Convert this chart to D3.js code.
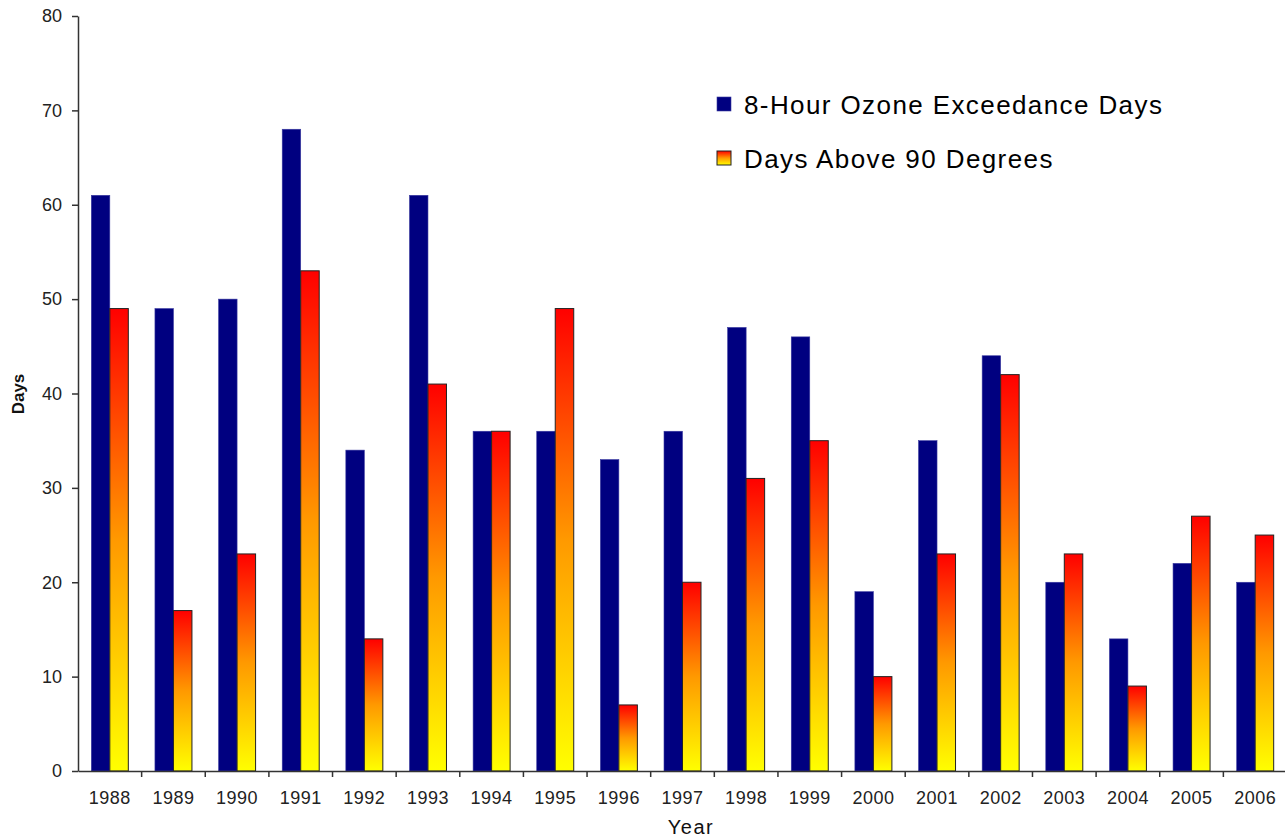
<!DOCTYPE html>
<html>
<head>
<meta charset="utf-8">
<script src="https://cdn.jsdelivr.net/npm/d3@7"></script>
<style>
  html, body { margin: 0; padding: 0; background: #fff; }
  svg { display: block; }
</style>
</head>
<body>
<svg id="chart" width="1285" height="839"></svg>
<script>
// Yearly counts
const years = ["1988","1989","1990","1991","1992","1993","1994","1995","1996","1997",
               "1998","1999","2000","2001","2002","2003","2004","2005","2006"];
const ozoneDays = [61, 49, 50, 68, 34, 61, 36, 36, 33, 36, 47, 46, 19, 35, 44, 20, 14, 22, 20];
const hotDays   = [49, 17, 23, 53, 14, 41, 36, 49, 7, 20, 31, 35, 10, 23, 42, 23, 9, 27, 25];
const yTicks = [0, 10, 20, 30, 40, 50, 60, 70, 80];
const seriesNames = ["8-Hour Ozone Exceedance Days", "Days Above 90 Degrees"];

const svg = d3.select("#chart");
const margin = { left: 78, right: -2, top: 16, bottom: 68 };
const W = 1285, H = 839;
const FONT = "Liberation Sans, Arial, sans-serif";

const x = d3.scaleBand().domain(years).range([margin.left, W - margin.right]).padding(0);
const y = d3.scaleLinear().domain([0, 80]).range([H - margin.bottom, margin.top]);
const barW = 18.5;

// Gradient for the temperature bars: yellow at the base, red at the top
const defs = svg.append("defs");
function heatGradient(id) {
  const grad = defs.append("linearGradient")
    .attr("id", id).attr("x1", 0).attr("y1", 1).attr("x2", 0).attr("y2", 0);
  grad.append("stop").attr("offset", "0%").attr("stop-color", "#ffff00");
  grad.append("stop").attr("offset", "50%").attr("stop-color", "#ff9900");
  grad.append("stop").attr("offset", "100%").attr("stop-color", "#ff0000");
}
heatGradient("heat");
heatGradient("heatLegend");

const axisColor = "#333";

// Bars
const g = svg.append("g");
g.selectAll("rect.ozone").data(years).join("rect")
  .attr("class", "ozone")
  .attr("x", (d) => x(d) + x.bandwidth() / 2 - barW)
  .attr("y", (d, i) => y(ozoneDays[i]))
  .attr("width", barW)
  .attr("height", (d, i) => y(0) - y(ozoneDays[i]))
  .attr("fill", "#000080")
  .attr("stroke", "#3a3aa0").attr("stroke-width", 0.6);

g.selectAll("rect.heat").data(years).join("rect")
  .attr("class", "heat")
  .attr("x", (d) => x(d) + x.bandwidth() / 2)
  .attr("y", (d, i) => y(hotDays[i]))
  .attr("width", barW)
  .attr("height", (d, i) => y(0) - y(hotDays[i]))
  .attr("fill", "url(#heat)")
  .attr("stroke", "#222").attr("stroke-width", 1);

// Y axis
const yAxis = svg.append("g")
  .attr("transform", `translate(${margin.left},0)`)
  .call(d3.axisLeft(y).tickValues(yTicks).tickSize(6).tickPadding(10).tickSizeOuter(0));
yAxis.select(".domain").attr("stroke", axisColor).attr("stroke-width", 1.5);
yAxis.selectAll(".tick line").attr("stroke", axisColor).attr("stroke-width", 1.5);
yAxis.selectAll(".tick text")
  .attr("font-family", FONT)
  .attr("font-size", 18).attr("fill", "#222");

// X axis: ticks sit between categories
const xAxis = svg.append("g")
  .attr("transform", `translate(0,${y(0)})`)
  .call(d3.axisBottom(x).tickSize(0).tickPadding(20).tickSizeOuter(0));
xAxis.select(".domain").attr("stroke", axisColor).attr("stroke-width", 1.5);
xAxis.selectAll(".tick text")
  .attr("font-family", FONT)
  .attr("font-size", 18).attr("letter-spacing", 0.5).attr("fill", "#222");
xAxis.selectAll("line.sep").data(years).join("line")
  .attr("class", "sep")
  .attr("x1", (d) => x(d) + x.bandwidth()).attr("x2", (d) => x(d) + x.bandwidth())
  .attr("y1", 0).attr("y2", 6)
  .attr("stroke", axisColor).attr("stroke-width", 1.5);

// Axis titles
svg.append("text")
  .attr("x", 691).attr("y", 834)
  .attr("text-anchor", "middle")
  .attr("font-family", FONT)
  .attr("font-size", 20).attr("letter-spacing", 1.5).attr("fill", "#111")
  .text("Year");
svg.append("text")
  .attr("transform", "translate(24,394) rotate(-90)")
  .attr("text-anchor", "middle")
  .attr("font-family", FONT)
  .attr("font-weight", "bold")
  .attr("font-size", 17).attr("fill", "#111")
  .text("Days");

// Legend
const legend = svg.append("g").attr("transform", "translate(717,97)");
const swatchFills = ["#000080", "url(#heatLegend)"];
seriesNames.forEach((name, i) => {
  const row = legend.append("g").attr("transform", `translate(0,${i * 54})`);
  row.append("rect")
    .attr("x", 0).attr("y", 0).attr("width", 14).attr("height", 14)
    .attr("fill", swatchFills[i])
    .attr("stroke", i === 0 ? "#3a3aa0" : "#222").attr("stroke-width", i === 0 ? 0.6 : 1);
  row.append("text")
    .attr("x", 27).attr("y", 17)
    .attr("font-family", FONT)
    .attr("font-size", 26).attr("letter-spacing", 1.4).attr("fill", "#000")
    .text(name);
});
</script>
</body>
</html>
